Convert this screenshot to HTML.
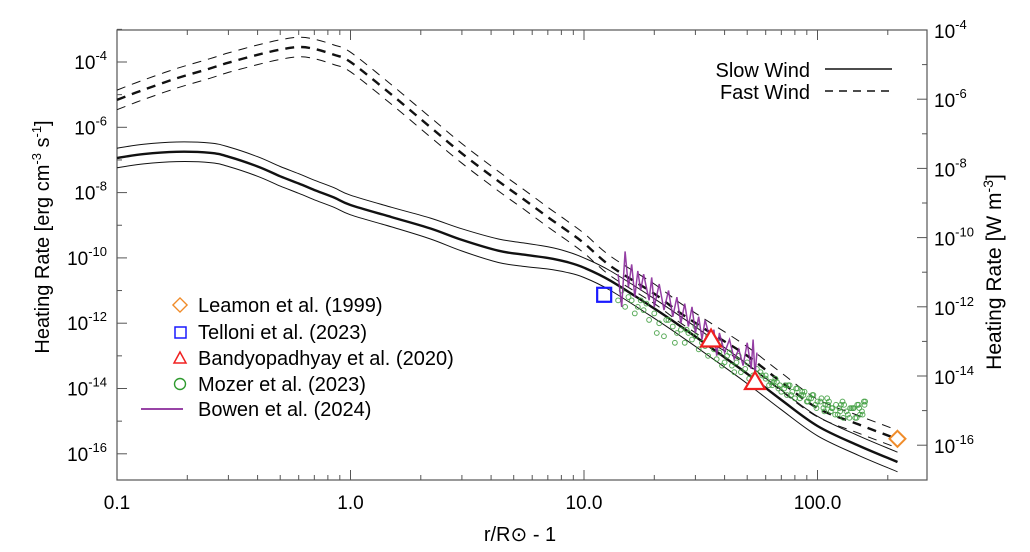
<!DOCTYPE html>
<html><head><meta charset="utf-8"><style>
html,body{margin:0;padding:0;background:#fff;}
svg{display:block;font-family:"Liberation Sans",Arial,sans-serif;}
</style></head><body>
<svg id="chart" width="1030" height="552" viewBox="0 0 1030 552" xmlns="http://www.w3.org/2000/svg">
<rect x="117" y="30" width="810" height="450" fill="none" stroke="#555" stroke-width="1.2"/>
<g id="ticks"></g>
<g id="series"></g>
<text x="520" y="541" font-size="20" text-anchor="middle">r/R<tspan font-size="20">⊙</tspan> - 1</text>
<text transform="translate(49,237) rotate(-90)" font-size="20" text-anchor="middle">Heating Rate [erg cm<tspan font-size="13" dy="-8">-3</tspan><tspan dy="8"> s</tspan><tspan font-size="13" dy="-8">-1</tspan><tspan dy="8">]</tspan></text>
<text transform="translate(1001,272) rotate(-90)" font-size="21" text-anchor="middle">Heating Rate [W m<tspan font-size="14" dy="-8">-3</tspan><tspan dy="8">]</tspan></text>
<g>
<text x="810" y="77" font-size="20" text-anchor="end">Slow Wind</text>
<line x1="825" y1="69" x2="892" y2="69" stroke="#111" stroke-width="1.5"/>
<text x="810" y="99" font-size="20" text-anchor="end">Fast Wind</text>
<line x1="825" y1="91" x2="892" y2="91" stroke="#111" stroke-width="1.5" stroke-dasharray="8,6"/>
</g>
<g font-size="20">
<rect x="175" y="300" width="10" height="10" transform="rotate(45 180 305)" fill="none" stroke="#f08c2a" stroke-width="1.4"/>
<text x="198" y="312">Leamon et al. (1999)</text>
<rect x="175" y="327" width="11" height="11" fill="none" stroke="#1a1aff" stroke-width="1.5"/>
<text x="198" y="339">Telloni et al. (2023)</text>
<polygon points="180,352 186,363 174,363" fill="none" stroke="#f02020" stroke-width="1.5"/>
<text x="198" y="365">Bandyopadhyay et al. (2020)</text>
<circle cx="180" cy="384" r="5.5" fill="none" stroke="#2e9a2e" stroke-width="1.4"/>
<text x="198" y="391">Mozer et al. (2023)</text>
<line x1="141" y1="409" x2="183" y2="409" stroke="#8a2a9a" stroke-width="1.8"/>
<text x="198" y="416">Bowen et al. (2024)</text>
</g>
</svg>
<script>
// ---- data (r/Rsun - 1, log10 heating rate in erg cm^-3 s^-1) ----
const xTickVals = [0.1, 1, 10, 100];
const xTickLabels = ["0.1", "1.0", "10.0", "100.0"];
const leftExps = [-4, -6, -8, -10, -12, -14, -16];
const rightExps = [-4, -6, -8, -10, -12, -14, -16];
const windR = [0.1,0.13,0.18,0.25,0.3,0.4,0.5,0.6,0.7,0.85,1,1.5,2.2,3,4.3,5.5,7,8.4,10,13,20,26,35,50,70,100,150,220];
const slowMid = [-6.94,-6.82,-6.75,-6.78,-6.9,-7.2,-7.5,-7.72,-7.92,-8.15,-8.38,-8.75,-9.1,-9.45,-9.78,-9.9,-10.0,-10.12,-10.3,-10.7,-11.55,-12.1,-12.75,-13.55,-14.35,-15.15,-15.75,-16.25];
const slowHalf = [0.3,0.3,0.3,0.3,0.3,0.3,0.3,0.3,0.3,0.3,0.3,0.3,0.32,0.34,0.36,0.36,0.34,0.32,0.3,0.3,0.3,0.3,0.3,0.3,0.3,0.3,0.3,0.3];
const fastMid = [-5.16,-4.85,-4.5,-4.2,-4.02,-3.78,-3.62,-3.54,-3.6,-3.78,-4.0,-5.0,-6.0,-6.8,-7.65,-8.2,-8.75,-9.15,-9.55,-10.25,-11.1,-11.7,-12.3,-13.0,-13.8,-14.6,-15.1,-15.55];
const fastHalf = [0.3,0.3,0.3,0.3,0.3,0.3,0.3,0.3,0.3,0.3,0.3,0.3,0.3,0.3,0.3,0.3,0.3,0.3,0.3,0.3,0.3,0.3,0.3,0.28,0.28,0.27,0.27,0.27];
const leamonR = [220], leamonY = [-15.54];
const telloniR = [12.2], telloniY = [-11.13];
const bandR = [35, 54], bandY = [-12.5, -13.8];
const mozerR = [14,14.5,15,15.5,16,16.5,17,17.5,18,18.5,19,20,20.5,21,22,22.5,23,24,24.5,25,26,27,27.5,28,29,30,31,32,33,34,35,36,37,38,39,40,41,43,44,45,47,49,51,53,55,56,58,60,62,63,66,68,69,72,74,75,78,80,82,85,88,90,92,96,98,100,104,106,108,112,114,116,120,122,125,128,130,135,138,140,145,148,150,152,155,158,160,
  60,64,67,70,73,77,81,84,87,91,94,99,103,107,111,115,119,124,129,133,137,142,147,151,156,159,
  30,34,38,42,46,50,57,65,76,86,95,110,126,143];
const mozerY = [-11.3,-11.0,-11.5,-11.2,-11.3,-11.7,-11.5,-11.3,-11.6,-11.4,-11.9,-11.7,-12.3,-12.0,-12.4,-11.9,-11.9,-12.1,-12.6,-12.3,-12.2,-12.6,-12.2,-12.3,-12.5,-12.4,-12.8,-12.6,-12.7,-13.0,-12.6,-12.8,-13.1,-12.9,-13.3,-13.2,-13.0,-13.3,-13.5,-13.2,-13.5,-13.4,-13.7,-13.6,-13.4,-13.8,-13.6,-13.7,-13.9,-13.8,-13.7,-14.0,-13.9,-14.0,-14.2,-13.9,-14.1,-14.3,-14.0,-14.2,-14.1,-14.4,-14.3,-14.2,-14.5,-14.4,-14.3,-14.6,-14.5,-14.4,-14.7,-14.6,-14.5,-14.8,-14.7,-14.4,-14.5,-14.8,-14.6,-14.6,-14.9,-14.5,-14.5,-14.8,-14.7,-14.4,-14.4,
  -13.6,-13.9,-13.8,-14.1,-13.9,-14.2,-14.0,-14.3,-14.2,-14.4,-14.3,-14.6,-14.4,-14.7,-14.5,-14.6,-14.8,-14.6,-14.9,-14.7,-14.9,-14.6,-14.9,-14.6,-14.8,-14.5,
  -12.1,-12.4,-12.6,-12.9,-13.0,-13.2,-13.5,-13.8,-13.9,-14.1,-14.2,-14.3,-14.5,-14.6];
const bowenR = [14,14.5,15,15.5,16,16.5,17,17.5,18,19,19.5,20,21,22,23,24,25,26,27,28,29,30,31,32,33,35,36,37,38,40,42,44,46,48,50,52,53,54,55];
const bowenY = [-10.5,-11.5,-9.8,-10.9,-10.2,-11.2,-10.4,-11.0,-10.5,-11.3,-10.6,-11.5,-10.8,-11.6,-11.0,-11.8,-11.2,-12.0,-11.4,-12.1,-11.5,-12.3,-11.8,-12.5,-11.9,-12.6,-12.2,-13.0,-12.3,-12.9,-12.5,-13.1,-12.8,-13.3,-12.6,-13.4,-12.5,-13.6,-12.9];

const NS = "http://www.w3.org/2000/svg";
const L = 117, R = 927, T = 30, B = 480;
function X(v){ return L + (Math.log10(v) + 1) * 233.5; }
function Y(e){ return 62 + (-4 - e) * 32.65; }
function YR(e){ return 30 + (-4 - e) * 34.6; }
function mk(tag, attrs, parent){ const el = document.createElementNS(NS, tag); for (const k in attrs) el.setAttribute(k, attrs[k]); parent.appendChild(el); return el; }
const ticks = document.getElementById('ticks');
const series = document.getElementById('series');

for (let d = -1; d <= 2; d++) {
  for (let m = 1; m <= 9; m++) {
    const v = m * Math.pow(10, d);
    const x = X(v);
    if (x > R) break;
    const len = m === 1 ? 10 : 5;
    const t1 = mk('line', {x1:x, y1:B, x2:x, y2:B-len, stroke:'#555', 'stroke-width':1}, ticks);
    
    
    const t2 = mk('line', {x1:x, y1:T, x2:x, y2:T+len, stroke:'#555', 'stroke-width':1}, ticks);
    
    
  }
}
xTickVals.forEach((v, i) => {
  const t = mk('text', {x:X(v), y:509, 'font-size':19, 'text-anchor':'middle'}, ticks);
  t.textContent = xTickLabels[i];
  
  
});
for (let e = -3; e >= -16; e--) {
  const y = Y(e);
  const len = (e % 2 === 0) ? 10 : 5;
  const t = mk('line', {x1:L, y1:y, x2:L+len, y2:y, stroke:'#555', 'stroke-width':1}, ticks);
  
  
}
leftExps.forEach(e => {
  const t = mk('text', {x:107, y:Y(e)+7, 'font-size':19, 'text-anchor':'end'}, ticks);
  t.innerHTML = '10<tspan font-size="13" dy="-9">' + e + '</tspan>';
  
  
});
for (let e = -4; e >= -16; e--) {
  const y = YR(e);
  const len = (e % 2 === 0) ? 10 : 5;
  const t = mk('line', {x1:R, y1:y, x2:R-len, y2:y, stroke:'#555', 'stroke-width':1}, ticks);
  
  
}
rightExps.forEach(e => {
  const t = mk('text', {x:934, y:YR(e)+8, 'font-size':19, 'text-anchor':'start'}, ticks);
  t.innerHTML = '10<tspan font-size="13" dy="-9">' + e + '</tspan>';
  
  
});

// smooth Catmull-Rom path
function smoothPath(rs, ys, off){
  const p = rs.map((r, i) => [X(r), Y(ys[i] + (off ? off[i] : 0))]);
  let d = 'M' + p[0][0].toFixed(1) + ',' + p[0][1].toFixed(1);
  for (let i = 0; i < p.length - 1; i++) {
    const p0 = p[i-1] || p[i], p1 = p[i], p2 = p[i+1], p3 = p[i+2] || p2;
    const c1 = [p1[0] + (p2[0]-p0[0])/6, p1[1] + (p2[1]-p0[1])/6];
    const c2 = [p2[0] - (p3[0]-p1[0])/6, p2[1] - (p3[1]-p1[1])/6];
    d += ' C' + c1[0].toFixed(1) + ',' + c1[1].toFixed(1) + ' ' + c2[0].toFixed(1) + ',' + c2[1].toFixed(1) + ' ' + p2[0].toFixed(1) + ',' + p2[1].toFixed(1);
  }
  return d;
}
function linePath(rs, ys){
  return rs.map((r, i) => (i ? 'L' : 'M') + X(r).toFixed(1) + ',' + Y(ys[i]).toFixed(1)).join(' ');
}
const neg = a => a.map(v => -v);
[[slowHalf, 1, 'slow-wind-upper'], [null, 2.4, 'slow-wind-mid'], [neg(slowHalf), 1, 'slow-wind-lower']].forEach(([off, w, nm]) => {
  const p = mk('path', {d:smoothPath(windR, slowMid, off), fill:'none', stroke:'#111', 'stroke-width':w}, series);
  
  
});
[[fastHalf, 1, 'fast-wind-upper'], [null, 2.4, 'fast-wind-mid'], [neg(fastHalf), 1, 'fast-wind-lower']].forEach(([off, w, nm]) => {
  const p = mk('path', {d:smoothPath(windR, fastMid, off), fill:'none', stroke:'#111', 'stroke-width':w, 'stroke-dasharray':'9,7'}, series);
  
  
});
mozerR.forEach((r, i) => {
  const c = mk('circle', {cx:X(r), cy:Y(mozerY[i]), r:2.4, fill:'none', stroke:'#3e9e3e', 'stroke-width':1, opacity:0.85}, series);
  
  
});
const bp = mk('path', {d:linePath(bowenR, bowenY), fill:'none', stroke:'#8a2a9a', 'stroke-width':1.5, opacity:0.9}, series);


telloniR.forEach((r, i) => {
  const s = mk('rect', {x:X(r)-7, y:Y(telloniY[i])-7, width:14, height:14, fill:'none', stroke:'#1a1aff', 'stroke-width':2.2}, series);
  
  
});
bandR.forEach((r, i) => {
  const x = X(r), y = Y(bandY[i]);
  const tr = mk('polygon', {points:`${x},${y-10} ${x+10},${y+7} ${x-10},${y+7}`, fill:'#fff', stroke:'#f02020', 'stroke-width':2.2}, series);
  
  
});
leamonR.forEach((r, i) => {
  const x = X(r), y = Y(leamonY[i]);
  const d = mk('polygon', {points:`${x},${y-8} ${x+8},${y} ${x},${y+8} ${x-8},${y}`, fill:'none', stroke:'#f08c2a', 'stroke-width':2}, series);
  
  
});
</script>
</body></html>
